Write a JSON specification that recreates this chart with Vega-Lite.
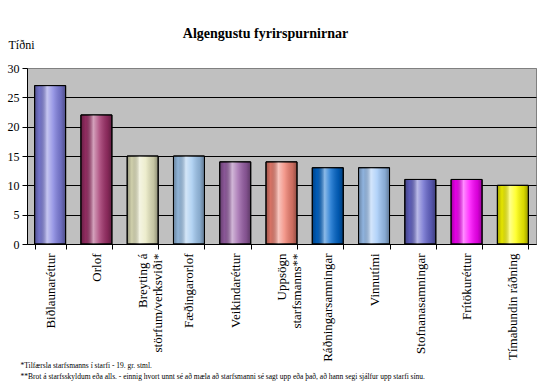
{
  "$schema": "https://vega.github.io/schema/vega-lite/v6.json",
  "width": 509,
  "height": 176,
  "autosize": {"type": "none"},
  "padding": {"left": 27, "top": 68, "right": 18, "bottom": 147},
  "background": "white",
  "title": {
    "text": "Algengustu fyrirspurnirnar",
    "font": "Liberation Serif",
    "fontSize": 14,
    "fontWeight": "bold",
    "color": "black",
    "anchor": "middle",
    "dx": -16,
    "offset": 0,
    "dy": 3
  },
  "config": {
    "view": {"fill": "#c0c0c0", "stroke": "#808080", "strokeWidth": 1},
    "font": "Liberation Serif"
  },
  "data": {
    "values": [
      {"flokkur": "Biðlaunaréttur", "fjoldi": 27},
      {"flokkur": "Orlof", "fjoldi": 22},
      {"flokkur": "Breyting á|störfum/verksviði*", "fjoldi": 15},
      {"flokkur": "Fæðingarorlof", "fjoldi": 15},
      {"flokkur": "Veikindaréttur", "fjoldi": 14},
      {"flokkur": "Uppsögn|starfsmanns**", "fjoldi": 14},
      {"flokkur": "Ráðningarsamningar", "fjoldi": 13},
      {"flokkur": "Vinnutími", "fjoldi": 13},
      {"flokkur": "Stofnanasamningar", "fjoldi": 11},
      {"flokkur": "Frítökuréttur", "fjoldi": 11},
      {"flokkur": "Tímabundin ráðning", "fjoldi": 10}
    ]
  },
  "encoding": {
    "x": {
      "field": "flokkur",
      "type": "nominal",
      "sort": null,
      "scale": {"paddingInner": 0.33, "paddingOuter": 0.165},
      "axis": {
        "labelAngle": 270,
        "labelFont": "Liberation Serif",
        "labelFontSize": 13,
        "labelColor": "black",
        "labelExpr": "split(datum.label, '|')",
        "labelLineHeight": 15,
        "labelPadding": 4,
        "labelLimit": 200,
        "tickBand": "extent",
        "tickColor": "black",
        "tickSize": 5,
        "domainColor": "black",
        "title": [
          "*Tilfærsla starfsmanns í starfi - 19. gr. stml.",
          "**Brot á starfsskyldum eða alls. - einnig hvort unnt sé að mæla að starfsmanni sé sagt upp eða það, að hann segi sjálfur upp starfi sínu."
        ],
        "titleFont": "Liberation Serif",
        "titleFontSize": 7.5,
        "titleFontWeight": "normal",
        "titleColor": "black",
        "titleAnchor": "start",
        "titleAlign": "left",
        "titleBaseline": "alphabetic",
        "titleLineHeight": 11,
        "titleX": -7,
        "titleY": 123
      }
    },
    "y": {
      "field": "fjoldi",
      "type": "quantitative",
      "scale": {"domain": [0, 30]},
      "axis": {
        "values": [0, 5, 10, 15, 20, 25, 30],
        "grid": true,
        "gridColor": {"condition": {"test": "datum.value == 30", "value": "#808080"}, "value": "black"},
        "gridOpacity": 1,
        "labelFont": "Liberation Serif",
        "labelFontSize": 12,
        "labelColor": "black",
        "labelPadding": 3,
        "tickColor": "black",
        "tickSize": 5,
        "domainColor": "black",
        "title": "Tíðni",
        "titleFont": "Liberation Serif",
        "titleFontSize": 12,
        "titleFontWeight": "normal",
        "titleColor": "black",
        "titleAngle": 0,
        "titleAlign": "left",
        "titleBaseline": "alphabetic",
        "titleX": -19,
        "titleY": -20
      }
    }
  },
  "layer": [
    {
      "mark": {"type": "bar", "stroke": "black", "strokeWidth": 1},
      "encoding": {
        "color": {
          "field": "flokkur",
          "type": "nominal",
          "sort": null,
          "legend": null,
          "scale": {
            "range": ["#8080e0", "#a0306a", "#e8e8c0", "#a0c8f0", "#9a60a8", "#f08070", "#0066cc", "#a0c8f8", "#6666cc", "#ff00ff", "#ffff00"]
          }
        }
      }
    },
    {
      "mark": {
        "type": "bar",
        "stroke": "black",
        "strokeWidth": 1,
        "fill": {
          "gradient": "linear",
          "x1": 0, "y1": 0, "x2": 1, "y2": 0,
          "stops": [
            {"offset": 0, "color": "rgba(0,0,0,0.35)"},
            {"offset": 0.15, "color": "rgba(0,0,0,0.1)"},
            {"offset": 0.4, "color": "rgba(255,255,255,0.55)"},
            {"offset": 0.6, "color": "rgba(255,255,255,0.2)"},
            {"offset": 0.85, "color": "rgba(0,0,0,0.15)"},
            {"offset": 1, "color": "rgba(0,0,0,0.4)"}
          ]
        }
      },
      "encoding": {}
    }
  ]
}
